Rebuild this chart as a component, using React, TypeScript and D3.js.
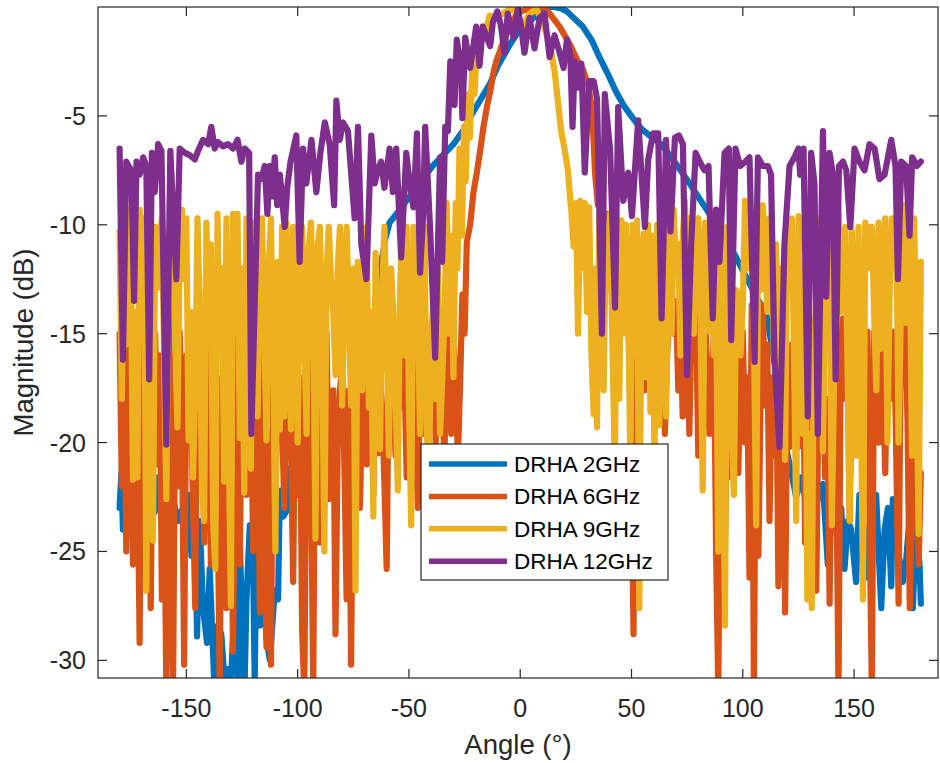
import React from 'react';
import * as d3 from 'd3';

type Pt = [number, number];

const SERIES_NAMES = ['DRHA 2GHz', 'DRHA 6GHz', 'DRHA 9GHz', 'DRHA 12GHz'];
const SERIES_COLORS = ['#0072BD', '#D95319', '#EDB120', '#7E2F8E'];
const X_TICKS = [-150, -100, -50, 0, 50, 100, 150];
const Y_TICKS = [-30, -25, -20, -15, -10, -5];
const X_DOMAIN: Pt = [-189.7, 187.7];
const Y_DOMAIN: Pt = [-30.81, 0];

// [angle (deg), magnitude (dB)]
const drha2GHz: Pt[] = [
  [-180, -23], [-179.2, -21.4], [-178.5, -24], [-177.7, -22.8], [-175.4, -23.6], [-173.2, -23], [-170.9, -21.9],
  [-169.4, -24.6], [-166.4, -21.6], [-164.2, -23.2], [-162.7, -21.6], [-160.5, -23.2], [-158.2, -21.9], [-156, -22.6],
  [-153.7, -23.6], [-151.5, -23], [-149.2, -22.4], [-147.7, -25.2], [-146.2, -22.6], [-145.2, -28.9], [-144, -23.6],
  [-142.5, -27.6], [-140.7, -29.2], [-139.5, -25.8], [-137.5, -31], [-135.8, -28.4], [-134.3, -28.8], [-132.8, -31],
  [-131.3, -30.4], [-130, -31], [-129, -28.8], [-127.5, -30], [-126.8, -31], [-126, -24.6], [-124.5, -29.6],
  [-123.8, -31], [-123, -27.2], [-121.5, -23.8], [-120, -25.6], [-119.3, -31], [-118.5, -24.6], [-117, -28.4],
  [-115.5, -25.6], [-114, -29], [-112.5, -30], [-110.3, -26.8], [-108.8, -27.2], [-108, -22.2], [-106.5, -23.4],
  [-104.3, -23], [-103.5, -21.2], [-100, -22], [-95, -21.5], [-90, -21], [-85, -20], [-80, -19], [-76, -18],
  [-72, -17], [-67, -15], [-64, -13], [-62, -11.5], [-60.5, -10.6], [-58.7, -9.9], [-54, -9.3], [-49.7, -8.7],
  [-44.5, -8], [-39.3, -7.3], [-30, -6.3], [-25.8, -5.7], [-21, -4.8], [-13.5, -3.5], [-10, -2.7], [-4.5, -1.7],
  [0, -1.0], [3, -0.8], [6, -0.5], [9, -0.2], [12, 0], [15, 0], [18, -0.05], [21, -0.2], [24, -0.5], [28.1, -0.9],
  [32, -1.5], [35.6, -2.3], [39.5, -3.1], [43.1, -3.9], [47, -4.6], [50.6, -5.1], [54.5, -5.6], [58.1, -5.9],
  [63.3, -6.3], [70, -7.2], [76.1, -8.1], [80.5, -8.8], [85.1, -9.5], [91, -10.5], [97, -11.5], [101.5, -12.4],
  [106, -13.3], [110.5, -14.1], [113, -15.5], [116, -17.5], [118, -19], [120, -20.5], [122, -21.5], [124, -22.5],
  [126.2, -21.6], [127.7, -22.4], [129.2, -23], [131.5, -24.8], [133, -22.8], [136, -21.9], [138.2, -25.6],
  [139.7, -23.8], [142, -23.6], [144.2, -23], [145.7, -25.8], [147.2, -23.6], [148.7, -24], [150.9, -26.4],
  [152.4, -22.4], [153.9, -23.4], [156.2, -26.2], [158.4, -23.2], [159.9, -22.4], [162.2, -27.6], [163.7, -24],
  [165.2, -23], [166.7, -26.6], [167.4, -22.6], [168.9, -24.4], [171.9, -26.4], [173.4, -25.4], [175.6, -22.6],
  [176.4, -27.6], [177.9, -23.6], [179.4, -25.6], [180, -27.4],
];

const drha6GHz: Pt[] = [
  [-180, -15], [-179, -22], [-178, -15.3], [-177, -25], [-176, -16], [-175, -14.5], [-174, -25.6], [-173, -16.7],
  [-172, -20], [-171, -29.2], [-170, -14.5], [-169, -18], [-168, -14.5], [-167, -21], [-166, -27.6], [-165, -17.6],
  [-164, -15], [-163, -21], [-162, -16], [-161, -27.2], [-160, -20.6], [-159, -31.5], [-158, -13.3], [-157, -18],
  [-156, -31.5], [-155, -17.6], [-154, -22], [-153, -14.9], [-152, -19], [-151, -30.2], [-150, -16], [-149, -19.6],
  [-148, -17.3], [-147, -23], [-146, -27.6], [-145, -15], [-144, -21.6], [-143, -18], [-142, -24.6], [-141, -16],
  [-140, -14.9], [-139, -25.6], [-138, -18], [-137, -15.7], [-136, -22], [-135, -31.5], [-134, -17], [-133, -20.6],
  [-132, -27.6], [-131, -16], [-130, -22], [-129, -29.6], [-128, -15.5], [-127, -14.7], [-126, -25.6], [-125, -16.9],
  [-124, -19], [-123, -22.4], [-122, -15.5], [-121, -17.3], [-120, -25], [-119, -21.6], [-118, -16], [-117, -27.8],
  [-116, -15.1], [-115, -20], [-114, -29.4], [-113, -19.6], [-112, -30.2], [-111, -17], [-110, -23.4], [-109, -16],
  [-108, -14.9], [-107, -19], [-106, -23], [-105, -16], [-104, -14.9], [-103, -20], [-102, -26.4], [-101, -15.5],
  [-100, -22.4], [-99, -17], [-98, -28.6], [-97, -31.5], [-96, -17.6], [-95, -15.3], [-94, -21], [-93, -31.5],
  [-92, -14.7], [-91, -18], [-90, -24.6], [-89, -16], [-88, -19.6], [-87, -15], [-86, -22.6], [-85, -19],
  [-84, -17.6], [-83, -28.8], [-82, -20], [-81, -17.6], [-80, -16.5], [-79, -21], [-78, -27.2], [-77, -17.6],
  [-76, -30.2], [-75, -19], [-74, -16.7], [-73, -15], [-72, -23], [-71, -18], [-70, -16.9], [-69, -21], [-68, -17.3],
  [-67, -15.5], [-66, -22.4], [-65, -14.8], [-64, -20.5], [-63, -17], [-62, -18.4], [-61, -22], [-60, -25.8],
  [-59, -16], [-58, -14.3], [-57, -18], [-56, -20.6], [-55, -15], [-54, -18.4], [-53, -14.5], [-52, -17],
  [-51, -21.6], [-50, -15], [-49, -19.2], [-48, -16], [-47, -20], [-46, -23], [-45, -17], [-44, -19.6], [-43, -15.1],
  [-42, -18], [-41, -19.6], [-40, -16], [-39, -14.9], [-38, -20], [-37, -17], [-36, -14.9], [-35, -19], [-34, -20.4],
  [-33, -14.9], [-32, -17], [-31, -19.6], [-30, -15], [-29, -17.3], [-28, -20.8], [-27, -17.3], [-26, -13.2],
  [-25, -15], [-24, -10.8], [-22.5, -10], [-21, -8.5], [-19.5, -7.6], [-18, -6.6], [-16.5, -5.5], [-15, -4.6],
  [-13.5, -3.9], [-12, -3], [-10.5, -2.4], [-9, -2], [-7, -1.4], [-4.5, -0.9], [-2, -0.4], [0.4, -0.2], [5.7, 0],
  [10.2, 0], [13.2, -0.3], [17.7, -0.9], [22.2, -1.7], [25.9, -2.5], [28.3, -2.9], [30.5, -3.6], [32, -4.5],
  [32.8, -5.8], [33.6, -7.6], [34.9, -9.1], [36.4, -9.3], [37.9, -9.7], [39.4, -9.5], [40.9, -11.7], [42.4, -10.9],
  [43.9, -12.7], [46.1, -13.7], [48.4, -13.3], [49.8, -19.9], [50.9, -28.8], [52.1, -13.7], [53.9, -14.9],
  [55.8, -17.6], [57.3, -13.7], [59.6, -14.7], [61, -17], [62, -19.2], [63, -15], [64, -13.7], [65, -19.6],
  [66, -16], [67, -13.7], [68, -13.3], [69, -15], [70, -13.5], [71, -17.6], [72, -15], [73, -18.8], [74, -13.7],
  [75, -16], [76, -19.6], [77, -13.7], [78, -16], [79, -14.1], [80, -20.6], [81, -17], [82, -15.7], [83, -13.7],
  [84, -17], [85, -19.6], [86, -17.3], [87, -15], [88, -25], [89, -31.5], [90, -17], [91, -15.3], [92, -24.8],
  [93, -18], [94, -14.9], [95, -21.6], [96, -17], [97, -14.9], [98, -21.4], [99, -16], [100, -14.9], [101, -20],
  [102, -17], [103, -26.2], [104, -13.7], [105, -31.5], [106, -14.9], [107, -25.2], [108, -18], [109, -13.7],
  [110, -18.3], [111, -15.5], [112, -23.6], [113, -17], [114, -20.6], [115, -16], [116, -26.6], [117, -19.6],
  [118, -16], [119, -27.8], [120, -17.6], [121, -20.2], [122, -15.5], [123, -17.6], [124, -14.9], [125, -20.2],
  [126, -16], [127, -14.9], [128, -24.6], [129, -19], [130, -17.6], [131, -19.9], [132, -15.5], [133, -26.8],
  [134, -18], [135, -19.6], [136, -15.5], [137, -21.6], [138, -18], [139, -27.4], [140, -17], [141, -15.3],
  [142, -21], [143, -31.5], [144, -16], [145, -14.3], [146, -18], [147, -14.9], [148, -23.6], [149, -17],
  [150, -19.9], [151, -14.9], [152, -17], [153, -19.6], [154, -16], [155, -21], [156, -14.9], [157, -24],
  [158, -31.5], [159, -14.9], [160, -17.1], [161, -20], [162, -15.7], [163, -17.5], [164, -21.4], [165, -15.5],
  [166, -18], [167, -16], [168, -14.9], [169, -21], [170, -27.4], [171, -14.9], [172, -17], [173, -14.5],
  [174, -19], [175, -27.6], [176, -23.6], [177, -20], [178, -18.8], [179, -25.6], [180, -21.4],
];

const drha9GHz: Pt[] = [
  [-180, -10.3], [-179, -18], [-178, -10.9], [-177, -15.5], [-176, -9.3], [-175, -11], [-174, -21.7], [-173, -14],
  [-172, -21.6], [-171, -9.3], [-170, -11.1], [-169, -9.7], [-168, -26.8], [-167, -12], [-166, -9.3], [-165, -24.5],
  [-164, -10.1], [-163, -12.9], [-162, -10.5], [-161, -9.7], [-160, -16], [-159, -22.6], [-158, -12], [-157, -9.5],
  [-156, -10.9], [-155, -15], [-154, -19.3], [-153, -11], [-152, -9.3], [-151, -12.5], [-150, -9.7], [-149, -19.9],
  [-148, -14], [-147, -21.6], [-146, -17.4], [-145, -9.7], [-144, -13.7], [-143, -22], [-142, -23.6], [-141, -9.9],
  [-140, -14], [-139, -10.9], [-138, -23.5], [-137, -25.8], [-136, -9.5], [-135, -15.7], [-134, -12], [-133, -21.8],
  [-132, -9.7], [-131, -19.4], [-130, -27.5], [-129, -9.5], [-128, -13.3], [-127, -9.5], [-126, -19.8], [-125, -12],
  [-124, -22.3], [-123, -9.7], [-122, -19], [-121, -21.2], [-120, -9.9], [-119, -14], [-118, -18.8], [-117, -10.5],
  [-116, -9.7], [-115, -15], [-114, -19.9], [-113, -12], [-112, -9.7], [-111, -16], [-110, -25], [-109, -11.7],
  [-108, -19.4], [-107, -10.1], [-106, -18.8], [-105, -9.9], [-104, -14], [-103, -19.4], [-102, -10.1], [-101, -13],
  [-100, -20], [-99, -12], [-98, -10.1], [-97, -15], [-96, -19.6], [-95, -11], [-94, -9.9], [-93, -14], [-92, -24.4],
  [-91, -11], [-90, -10.1], [-89, -16], [-88, -25], [-87, -12], [-86, -10.1], [-85, -12.5], [-84, -14.1],
  [-83, -16.9], [-82, -12], [-81, -10.1], [-80, -18.3], [-79, -13], [-78, -10.1], [-77, -14], [-76, -18.3],
  [-75, -12], [-74, -26.8], [-73, -11.7], [-72, -15], [-71, -17.6], [-70, -12], [-69, -10.1], [-68, -18.4],
  [-67, -14], [-66, -23.4], [-65, -11.3], [-64, -16], [-63, -20.3], [-62, -13], [-61, -10.1], [-60, -15],
  [-59, -20.6], [-58, -12], [-57, -14.1], [-56, -18], [-55, -22.2], [-54, -13], [-53, -10.1], [-52, -16],
  [-51, -10.1], [-50, -18], [-49, -23.8], [-48, -10.1], [-47, -12], [-46, -14.1], [-45, -19.6], [-44, -12],
  [-43, -10.1], [-42, -19.4], [-41, -21.6], [-40, -15], [-39, -13.7], [-38, -18], [-37, -12], [-36, -19.6],
  [-35, -17], [-34, -14.1], [-33, -9], [-32, -15], [-31, -10.5], [-30, -17], [-29, -9], [-28.2, -12], [-27.3, -6.5],
  [-26.2, -10.5], [-25.3, -5.5], [-24.5, -8], [-23.5, -4], [-22.6, -6], [-21.5, -2.6], [-20.5, -4], [-19.5, -1.8],
  [-18.3, -2.5], [-17, -0.9], [-15.5, -1.1], [-13.8, -0.4], [-10.8, -0.5], [-7.8, -0.3], [-4.8, -0.1], [-1.8, -0.2],
  [1.2, -0.9], [4.2, -0.3], [7.2, -0.1], [10.2, -0.7], [13.2, -1.7], [15.4, -2.9], [16.9, -4.3], [18.4, -5.7],
  [19.9, -6.5], [21.4, -7.5], [22.9, -9.3], [24, -11], [25, -9], [26, -15], [27, -8.9], [28, -12], [29, -9],
  [30, -14], [31, -9.2], [32, -16], [33, -18.7], [34, -12], [34.5, -19.3], [35.5, -9.5], [36.5, -14], [37.5, -17.6],
  [38.5, -10], [39.5, -13], [40.4, -9.5], [41.5, -16], [42.5, -21], [43.5, -11], [44.5, -18], [45.5, -9.8],
  [46.5, -15], [47.5, -10], [48.5, -14], [49.5, -21], [50.5, -10], [51.5, -16], [52.5, -9.8], [53.5, -27.6],
  [54.5, -12], [55.5, -10.4], [56.5, -17], [57.5, -10], [58.5, -18.6], [59.5, -10.5], [60.3, -21], [61.5, -10],
  [62.5, -19.2], [63.5, -9.8], [64.5, -12], [65.5, -18.8], [67, -10.1], [68, -15], [69, -9.3], [70, -12],
  [71, -10.9], [72, -16], [73, -10.5], [74, -8.9], [75, -13], [76, -9.7], [77, -12.5], [78, -15], [79, -9.9],
  [80, -9.7], [81, -14], [82, -22.2], [83, -9.9], [84, -12], [85, -14.9], [86, -9.7], [87, -16], [88, -13],
  [89, -25], [90, -10.1], [91, -17], [92, -28.4], [93, -10.1], [94, -15], [95, -19.6], [96, -22.4], [97, -13],
  [98, -13.3], [99, -16], [100, -13.7], [101, -8.9], [102, -12], [103, -10.5], [104, -10.9], [105, -15],
  [106, -23.8], [107, -9.3], [108, -13], [109, -9.1], [110, -10.9], [111, -14], [112, -9.7], [113, -12], [114, -16],
  [115, -10.9], [116, -17.6], [117, -12], [118, -14], [119, -20.8], [120, -9.7], [121, -13], [122, -9.7],
  [123, -16], [124, -23.6], [125, -9.6], [126, -14], [127, -19.6], [128, -12], [129, -27.2], [130, -19.6],
  [131, -27.6], [132, -15], [133, -13.7], [134, -9.7], [135, -13.7], [136, -20.4], [137, -12.7], [138, -15],
  [139, -10.7], [140, -23.8], [141, -17.1], [142, -12], [143, -9.5], [144, -14], [145, -10.7], [146, -10.1],
  [147, -16], [148, -23.6], [149, -10.3], [150, -14], [151, -20.6], [152, -10.1], [153, -17], [154, -27.2],
  [155, -9.9], [156, -12], [157, -10.1], [158, -10.1], [159, -14], [160, -17.6], [161, -9.9], [162, -15.7],
  [163, -12], [164, -9.7], [165, -20], [166, -13], [167, -9.7], [168, -12], [169, -10.1], [170, -20], [171, -14],
  [172, -9.1], [173, -14.5], [174, -12], [175, -10.3], [176, -20.6], [177, -9.7], [178, -16], [179, -24.2],
  [180, -11.7],
];

const drha12GHz: Pt[] = [
  [-180, -6.5], [-178.5, -16.2], [-177, -7.1], [-176, -7.3], [-174.7, -7.5], [-173.5, -13.5], [-172.4, -7.1],
  [-171, -7.7], [-169.4, -6.9], [-168, -7.3], [-166.7, -17.1], [-165.5, -6.7], [-164.2, -8.5], [-162.7, -6.3],
  [-161.2, -6.6], [-159, -20.1], [-157.2, -6.6], [-154.5, -12.5], [-153, -6.5], [-150.7, -6.7], [-148.5, -6.8],
  [-146.2, -7], [-144.7, -6.6], [-142.5, -6.1], [-140.2, -6.3], [-138.8, -5.5], [-137.3, -6.5], [-135.8, -6.2],
  [-133.5, -6.4], [-131.3, -6.3], [-129, -6.5], [-127, -6.1], [-125.3, -7.1], [-123.8, -6.5], [-121.8, -6.7],
  [-120.8, -19.6], [-117.8, -7.7], [-116.3, -7.9], [-114.8, -7.3], [-113.6, -9.5], [-112.5, -7.3], [-111.3, -8.7],
  [-110.3, -6.9], [-109.2, -9.1], [-108, -7.7], [-105.8, -10.1], [-104.7, -8.3], [-103.2, -7.1], [-100.6, -5.9],
  [-99.1, -11.7], [-97.6, -6.5], [-96.1, -8.1], [-93.8, -6.1], [-91.6, -8.5], [-89.8, -6.7], [-87.8, -5.3],
  [-85.6, -6.3], [-83.6, -9.1], [-82.6, -4.3], [-81.1, -6.1], [-79.6, -5.3], [-77.4, -5.7], [-74.4, -9.7],
  [-72.9, -5.5], [-71.4, -10.9], [-69.1, -12.5], [-66.9, -5.9], [-65.4, -8.1], [-64, -7.5], [-62.5, -7.1],
  [-61, -8.3], [-58.7, -6.5], [-57.2, -8.5], [-55.7, -6.5], [-53.5, -11.5], [-51.2, -6.7], [-49.7, -8.1],
  [-48, -9.2], [-46.4, -5.8], [-45, -12.2], [-43.7, -9.7], [-42.7, -5.5], [-40.4, -10.4], [-38.2, -16.1],
  [-36, -6.9], [-35.1, -11.7], [-33.7, -5.5], [-32.5, -5.7], [-31.4, -2.5], [-29.5, -4.5], [-28.5, -1.5],
  [-26.5, -2.9], [-26, -5.1], [-24.7, -1.4], [-22.5, -2.8], [-19.8, -0.9], [-18.3, -2.7], [-16.8, -0.9],
  [-13.5, -1.8], [-12.3, -0.7], [-10.3, -0.2], [-8.6, -0.9], [-7.1, -2.1], [-5.6, -0.3], [-3, -1.4], [-1.1, -0.1],
  [0.4, -0.9], [1.9, -2.1], [4.2, -0.5], [6.4, -1.9], [8.7, -0.5], [10.9, -0.3], [13.2, -2.3], [15.4, -1.3],
  [17.7, -2.1], [19.5, -2.8], [21, -1.5], [22.5, -2.2], [23.5, -5.5], [24.5, -2.5], [26, -3.7], [27.5, -2.6],
  [29, -7.6], [31, -3.4], [33, -3.4], [34.5, -4.2], [36.7, -15], [38, -4], [40.4, -6.6], [42.6, -13.8], [44, -4.6],
  [46.3, -8.9], [48.5, -7.6], [50.2, -9.6], [53, -5.2], [56, -10.1], [57.5, -7], [59.7, -5.8], [62, -5.8],
  [63.5, -14.3], [65.5, -6.1], [67.5, -10.3], [69.5, -6], [71.3, -5.9], [73.1, -6.3], [74.9, -16.9], [76.8, -10.9],
  [78.8, -6.7], [80.6, -7.1], [82.8, -7.5], [84.6, -7.3], [86.5, -14.3], [88, -9.3], [89.5, -11.7], [91.8, -6.7],
  [93.7, -6.5], [94.8, -15.3], [96.7, -6.5], [98.8, -7.3], [101.2, -7.1], [103, -6.9], [105.3, -16.3],
  [106.8, -6.9], [109, -7.3], [111.3, -7.3], [112.7, -7.7], [114.2, -16.1], [116.5, -20.2], [118.7, -10.9],
  [121, -7.3], [123.2, -6.9], [125, -6.5], [125.8, -7.7], [127.3, -6.5], [129.2, -18.8], [130.7, -6.7],
  [132.2, -8.1], [133.7, -19.6], [136, -5.7], [137.5, -13.3], [139, -6.7], [140.5, -7.7], [141.7, -17.1],
  [143.2, -7.3], [145, -7.1], [146.5, -7.5], [148.3, -10.1], [150.2, -6.5], [152.4, -7.1], [154.7, -7.5],
  [156.9, -6.3], [159.2, -6.5], [161.4, -7.9], [163.7, -7.7], [166.7, -6.1], [168.6, -7.3], [169.7, -12.5],
  [171.2, -7.1], [173.4, -7.3], [174.9, -10.5], [176.1, -6.9], [178.2, -7.3], [180, -7.1],
];

const SERIES_DATA: Pt[][] = [drha2GHz, drha6GHz, drha9GHz, drha12GHz];

const FONT = '"Liberation Sans", Arial, Helvetica, sans-serif';
const AX = '#262626';

export default function App() {
  const W = 940, H = 763;
  const left = 98, right = 938, top = 7, bottom = 678;
  const x = d3.scaleLinear().domain(X_DOMAIN).range([left, right]);
  const y = d3.scaleLinear().domain(Y_DOMAIN).range([bottom, top]);
  const line = d3.line<Pt>().x(d => x(d[0])).y(d => y(d[1]));
  const tickLen = 9;

  const legX = 421, legY = 444, legW = 247, legH = 136;
  const rowH = 32.4;

  return (
    <svg width={W} height={H} style={{ position: 'absolute', left: 0, top: 0, background: '#fff' }}
      fontFamily={FONT}>
      <defs>
        <clipPath id="plotClip">
          <rect x={left} y={top} width={right - left} height={bottom - top} />
        </clipPath>
      </defs>
      <rect x={0} y={0} width={W} height={H} fill="#fff" />
      <g clipPath="url(#plotClip)">
        {SERIES_DATA.map((s, i) => (
          <path key={i} d={line(s) || ''} fill="none" stroke={SERIES_COLORS[i]} strokeWidth={6.2}
            strokeLinejoin="round" strokeLinecap="round" />
        ))}
      </g>
      <rect x={left} y={top} width={right - left} height={bottom - top} fill="none" stroke={AX} strokeWidth={1.2} />
      {X_TICKS.map(t => (
        <g key={'x' + t}>
          <line x1={x(t)} x2={x(t)} y1={bottom} y2={bottom - tickLen} stroke={AX} strokeWidth={1.2} />
          <line x1={x(t)} x2={x(t)} y1={top} y2={top + tickLen} stroke={AX} strokeWidth={1.2} />
          <text x={x(t)} y={717} textAnchor="middle" fontSize={25} fill={AX}>{t}</text>
        </g>
      ))}
      {Y_TICKS.map(t => (
        <g key={'y' + t}>
          <line x1={left} x2={left + tickLen} y1={y(t)} y2={y(t)} stroke={AX} strokeWidth={1.2} />
          <line x1={right} x2={right - tickLen} y1={y(t)} y2={y(t)} stroke={AX} strokeWidth={1.2} />
          <text x={86} y={y(t) + 9} textAnchor="end" fontSize={25} fill={AX}>{t}</text>
        </g>
      ))}
      <text x={(left + right) / 2} y={754} textAnchor="middle" fontSize={27.5} fill={AX}>Angle (°)</text>
      <text transform={`translate(33,${(top + bottom) / 2}) rotate(-90)`} textAnchor="middle" fontSize={27.5} fill={AX}>
        Magnitude (dB)
      </text>
      <rect x={legX} y={legY} width={legW} height={legH} fill="#fff" stroke={AX} strokeWidth={1.2} />
      {SERIES_NAMES.map((n, i) => {
        const yy = legY + 20 + i * rowH;
        return (
          <g key={n}>
            <line x1={legX + 8} x2={legX + 86} y1={yy} y2={yy} stroke={SERIES_COLORS[i]} strokeWidth={5.5} />
            <text x={legX + 93} y={yy + 8} fontSize={22.5} fill="#000">{n}</text>
          </g>
        );
      })}
    </svg>
  );
}
